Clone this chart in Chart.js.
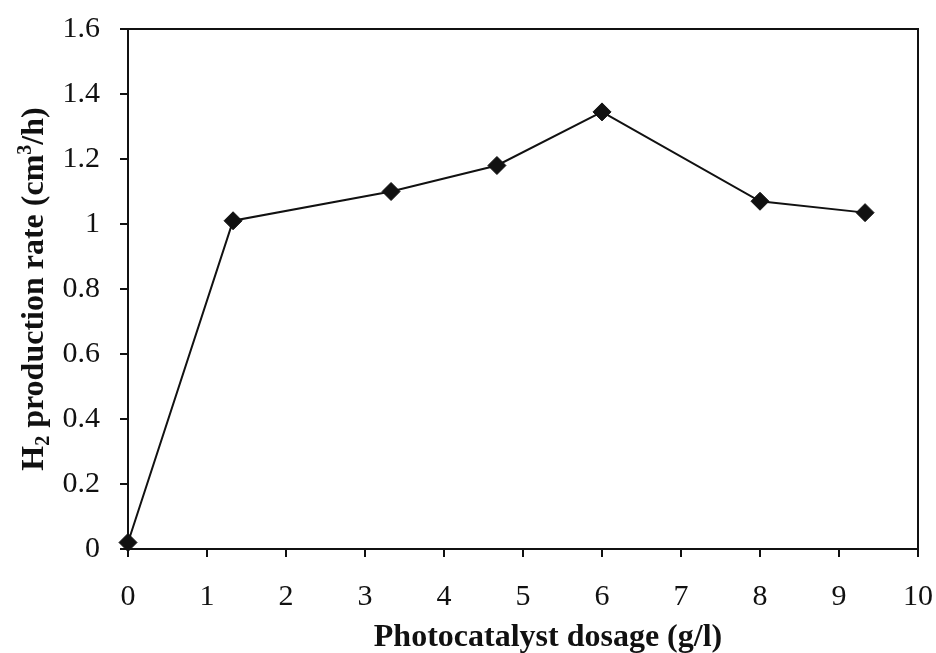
<!DOCTYPE html>
<html>
<head>
<meta charset="utf-8">
<script src="https://cdn.jsdelivr.net/npm/chart.js@4.4.1/dist/chart.umd.min.js"></script>
<style>
  html, body { margin: 0; padding: 0; background: #fff; }
  #wrap { width: 936px; height: 653px; }
</style>
</head>
<body>
<div id="wrap"><canvas id="dosageChart"></canvas></div>
<script>
const dosage = [0, 1.33, 3.33, 4.67, 6, 8, 9.33];
const h2Rate = [0.02, 1.01, 1.1, 1.18, 1.345, 1.07, 1.035];
const xTickValues = [0, 1, 2, 3, 4, 5, 6, 7, 8, 9, 10];
const yTickValues = [0, 0.2, 0.4, 0.6, 0.8, 1, 1.2, 1.4, 1.6];

const SERIF = "'Liberation Serif', 'Times New Roman', serif";

// draws text pieces with sub/superscripts, centred on (0,0) baseline
function drawRichText(ctx, parts, size) {
  const small = Math.round(size * 0.62);
  let total = 0;
  parts.forEach((p) => {
    ctx.font = `bold ${p.sub || p.sup ? small : size}px ${SERIF}`;
    p.w = ctx.measureText(p.t).width;
    total += p.w;
  });
  let x = -total / 2;
  parts.forEach((p) => {
    ctx.font = `bold ${p.sub || p.sup ? small : size}px ${SERIF}`;
    let dy = 0;
    if (p.sub) dy = size * 0.2;
    if (p.sup) dy = -size * 0.38;
    ctx.fillText(p.t, x, dy);
    x += p.w;
  });
}

const frameAndTitles = {
  id: "frameAndTitles",
  afterDraw(chart) {
    const { ctx, chartArea } = chart;
    ctx.save();
    ctx.strokeStyle = "#111";
    ctx.lineWidth = 2;
    ctx.strokeRect(chartArea.left, chartArea.top, chartArea.right - chartArea.left, chartArea.bottom - chartArea.top);

    ctx.fillStyle = "#111";
    ctx.textBaseline = "alphabetic";
    ctx.textAlign = "left";

    // x axis title
    ctx.save();
    ctx.translate((chartArea.left + chartArea.right) / 2 + 25, 646);
    drawRichText(ctx, [{ t: "Photocatalyst dosage (g/l)" }], 32);
    ctx.restore();

    // y axis title
    ctx.save();
    ctx.translate(43, (chartArea.top + chartArea.bottom) / 2);
    ctx.rotate(-Math.PI / 2);
    drawRichText(ctx, [
      { t: "H" },
      { t: "2", sub: true },
      { t: " production rate (cm" },
      { t: "3", sup: true },
      { t: "/h)" },
    ], 32);
    ctx.restore();
    ctx.restore();
  },
};

function axisOptions(values, min, max) {
  return {
    type: "linear",
    min,
    max,
    afterBuildTicks: (scale) => {
      scale.ticks = values.map((v) => ({ value: v }));
    },
    ticks: {
      color: "#111",
      font: { family: SERIF, size: 30 },
      callback: (value) => String(Number(value.toFixed(1))),
    },
    grid: {
      drawOnChartArea: false,
      drawTicks: true,
      tickLength: 8,
      color: "#111",
      lineWidth: 2,
    },
    border: { display: true, color: "#111", width: 2 },
  };
}

const xOptions = axisOptions(xTickValues, 0, 10);
xOptions.ticks.padding = 22;
xOptions.ticks.maxRotation = 0;
xOptions.afterFit = (scale) => {
  scale.height = 104;
  scale.paddingLeft = 0;
  scale.paddingRight = 18;
};

const yOptions = axisOptions(yTickValues, 0, 1.6);
yOptions.ticks.padding = 20;
yOptions.afterFit = (scale) => {
  scale.width = 128;
  scale.paddingTop = 29;
  scale.paddingBottom = 0;
};

new Chart(document.getElementById("dosageChart"), {
  type: "line",
  data: {
    datasets: [
      {
        label: "H2 production rate",
        data: dosage.map((x, i) => ({ x, y: h2Rate[i] })),
        borderColor: "#111",
        borderWidth: 2,
        pointStyle: "rectRot",
        pointRadius: 9,
        pointHoverRadius: 9,
        pointBackgroundColor: "#111",
        pointBorderColor: "#111",
        pointBorderWidth: 1,
        tension: 0,
        clip: false,
      },
    ],
  },
  options: {
    responsive: true,
    maintainAspectRatio: false,
    animation: false,
    layout: { padding: 0 },
    plugins: {
      legend: { display: false },
      tooltip: { enabled: false },
    },
    scales: { x: xOptions, y: yOptions },
  },
  plugins: [frameAndTitles],
});
</script>
</body>
</html>
